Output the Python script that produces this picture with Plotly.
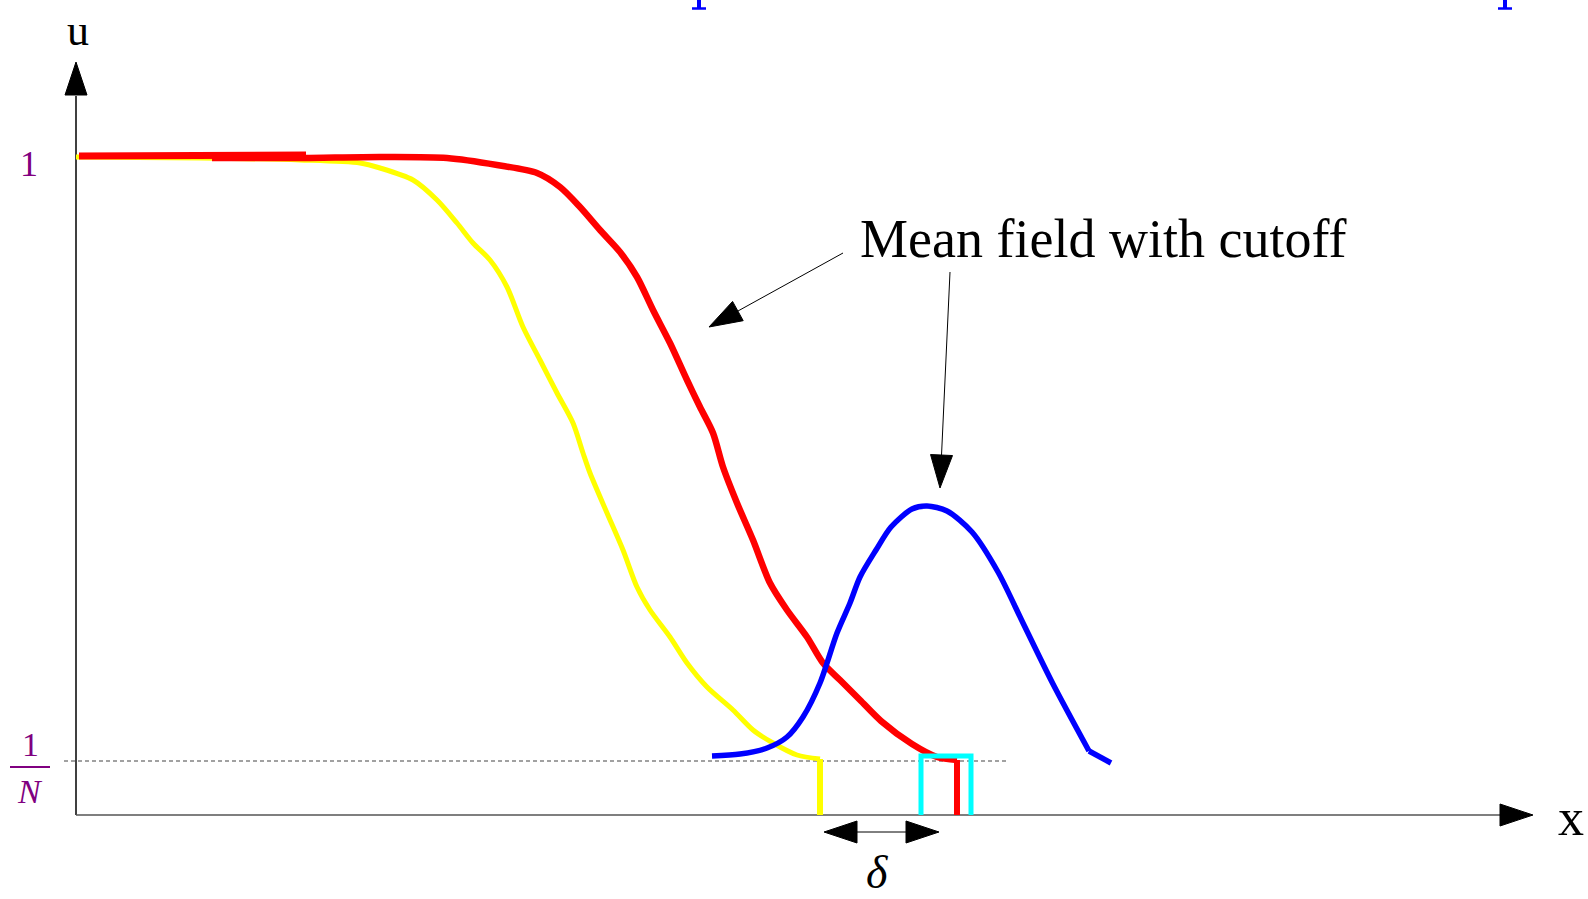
import numpy as np
import plotly.graph_objects as go

# --- curve data (image-pixel coordinates) ---
yellow_x = [76, 200, 300, 360, 380, 413, 437, 457, 473, 490, 507, 523, 540, 557, 573, 583,
            590, 607, 623, 637, 650, 670, 687, 707, 733, 753, 773, 797, 820]
yellow_y = [157, 158, 160, 163, 168, 180, 200, 223, 243, 260, 287, 327, 360, 393, 423, 453,
            473, 513, 550, 587, 610, 637, 663, 687, 710, 730, 743, 755, 759]
yellow_drop_x = [820, 820]
yellow_drop_y = [759, 815]

red_top_x = [79, 306]
red_top_y = [156, 155]
red_x = [212, 300, 380, 447, 497, 537, 560, 580, 600, 620, 637, 653, 670, 687, 700, 713,
         723, 737, 753, 770, 787, 807, 823, 840, 860, 881, 912, 937, 957]
red_y = [158, 158, 157, 158, 165, 173, 187, 207, 230, 252, 277, 310, 343, 380, 407, 433,
         467, 503, 540, 583, 610, 637, 663, 680, 700, 721, 744, 757, 760]
red_drop_x = [957, 957]
red_drop_y = [760, 815]

blue_x = [712, 740, 767, 787, 803, 820, 837, 850, 860, 876, 891, 912, 927, 947, 972, 998,
          1023, 1053, 1089]
blue_y = [756, 754, 748, 737, 717, 683, 633, 603, 577, 550, 527, 509, 506, 511, 532, 572,
          623, 684, 751]
blue_tail_x = [1089, 1111]
blue_tail_y = [751, 763]

cyan_x = [921, 921, 971, 971]
cyan_y = [815, 756, 756, 815]

level_inv_n = 761
origin = (76, 815)

fig = go.Figure()


def line(xs, ys, color, width, dash=None, shape="linear"):
    fig.add_trace(go.Scatter(x=xs, y=ys, mode="lines",
                             line=dict(color=color, width=width, dash=dash, shape=shape,
                                       smoothing=0.8 if shape == "spline" else None),
                             hoverinfo="skip", showlegend=False))


def head(tip, frm, length=33, half=11, color="black"):
    tx, ty = tip
    fx, fy = frm
    d = np.array([tx - fx, ty - fy], float)
    d /= np.linalg.norm(d)
    n = np.array([-d[1], d[0]])
    b = np.array([tx, ty]) - d * length
    p1 = b + n * half
    p2 = b - n * half
    fig.add_trace(go.Scatter(x=[tx, p1[0], p2[0], tx], y=[ty, p1[1], p2[1], ty],
                             mode="lines", fill="toself", fillcolor=color,
                             line=dict(color=color, width=1),
                             hoverinfo="skip", showlegend=False))
    return b


# axes
line([origin[0], origin[0]], [origin[1], 96], "black", 1.5)
head((76, 62), (76, 200))
line([origin[0], 1500], [origin[1], origin[1]], "#555555", 1.5)
head((1533, 815), (1400, 815))

# 1/N dashed level
line([64, 1006], [level_inv_n, level_inv_n], "#444444", 1.2, dash="4px,3px")

# curves
line(yellow_x, yellow_y, "#ffff00", 5, shape="spline")
line(yellow_drop_x, yellow_drop_y, "#ffff00", 6)
line(red_top_x, red_top_y, "#ff0000", 7)
line(red_x, red_y, "#ff0000", 6.5, shape="spline")
line(blue_x, blue_y, "#0000ff", 5.5, shape="spline")
line(blue_tail_x, blue_tail_y, "#0000ff", 5.5)
line(cyan_x, cyan_y, "#00ffff", 5)
line(red_drop_x, red_drop_y, "#ff0000", 6)

# annotation arrows
b1 = head((709, 327), (843, 253))
line([843, b1[0]], [253, b1[1]], "black", 1)
b2 = head((940, 488), (950, 272))
line([950, b2[0]], [272, b2[1]], "black", 1)

# delta double arrow
head((824, 832), (900, 832))
head((939, 832), (850, 832))
line([855, 908], [832, 832], "black", 1)

# 1/N fraction bar
line([10, 50], [767, 767], "#800080", 2)

# blue cut-off marks at top
for mx in [699, 1505]:
    line([mx, mx], [0, 8], "#0000ff", 4)
    line([mx - 7, mx + 7], [8.5, 8.5], "#0000ff", 2.5)

serif = "Liberation Serif"
ann = [
    dict(text="u", x=78, y=30, size=44, color="black"),
    dict(text="x", x=1571, y=817, size=52, color="black"),
    dict(text="1", x=29, y=164, size=36, color="#800080"),
    dict(text="1", x=30, y=744, size=34, color="#800080"),
    dict(text="<i>N</i>", x=30, y=791, size=34, color="#800080"),
    dict(text="<i>δ</i>", x=877, y=872, size=46, color="black"),
    dict(text="Mean field with cutoff", x=1103, y=239, size=54, color="black"),
]
for a in ann:
    fig.add_annotation(x=a["x"], y=a["y"], text=a["text"], showarrow=False,
                       xanchor="center", yanchor="middle",
                       font=dict(family=serif, size=a["size"], color=a["color"]))

fig.update_xaxes(range=[0, 1588], visible=False, fixedrange=True)
fig.update_yaxes(range=[899, 0], visible=False, fixedrange=True)
fig.update_layout(width=1588, height=899, margin=dict(l=0, r=0, t=0, b=0),
                  plot_bgcolor="white", paper_bgcolor="white", showlegend=False)

fig.write_html("out.html", config={"displayModeBar": False},
               post_script="document.body.style.margin='0';document.body.style.overflow='hidden';")
